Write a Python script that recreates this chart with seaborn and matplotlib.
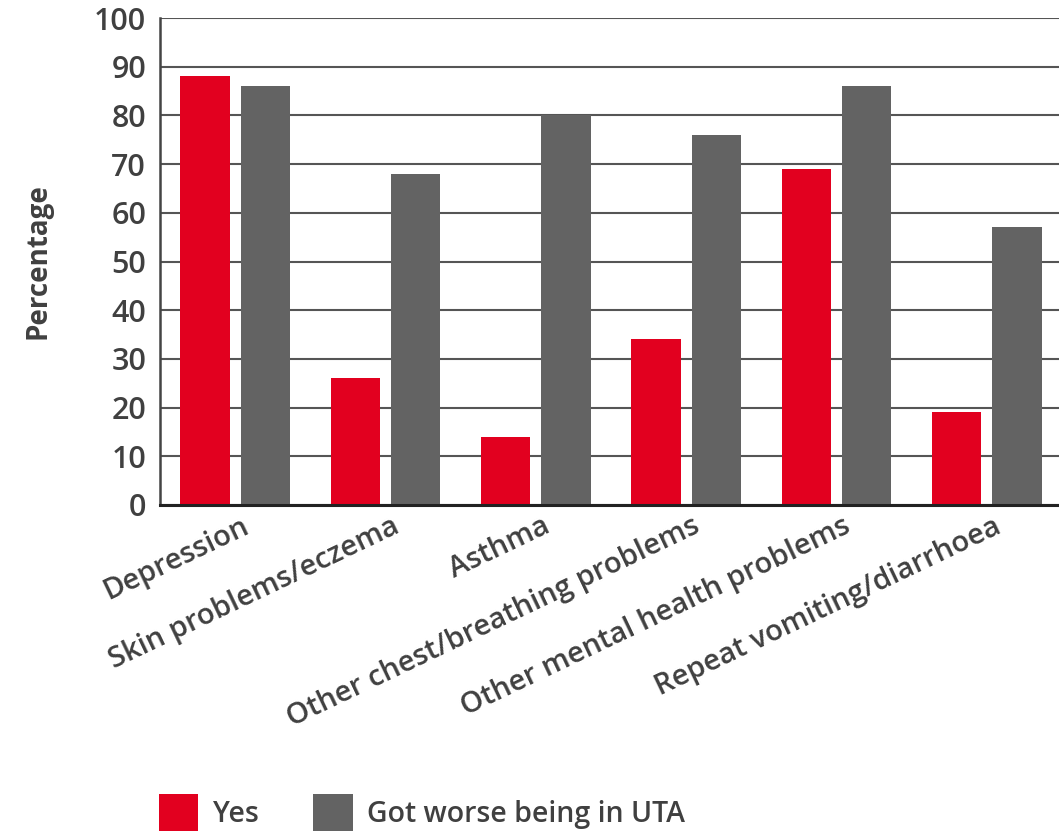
import matplotlib
matplotlib.use("Agg")
import matplotlib.pyplot as plt
import matplotlib.transforms as mtransforms
import seaborn as sns
import pandas as pd

categories = ["Depression", "Skin problems/eczema", "Asthma",
              "Other chest/breathing problems", "Other mental health problems",
              "Repeat vomiting/diarrhoea"]
series_names = ["Yes", "Got worse being in UTA"]
yes_values = [88, 26, 14, 34, 69, 19]
worse_values = [86, 68, 80, 76, 86, 57]
y_ticks = [0, 10, 20, 30, 40, 50, 60, 70, 80, 90, 100]

RED = "#E2001F"
GRAY = "#636363"
TEXT = "#404040"

df = pd.DataFrame({
    "Condition": categories * 2,
    "Value": yes_values + worse_values,
    "Series": [series_names[0]] * len(categories) + [series_names[1]] * len(categories),
})

sns.set_theme(style="white")
plt.rcParams["font.family"] = ["Open Sans", "DejaVu Sans"]

fig = plt.figure(figsize=(10.59, 8.32), dpi=100)
ax = fig.add_axes([160 / 1059, 1 - 505 / 832, (1062 - 160) / 1059, (505 - 18) / 832])

sns.barplot(data=df, x="Condition", y="Value", hue="Series", order=categories,
            hue_order=series_names, palette=[RED, GRAY], width=0.8, gap=0.18,
            saturation=1, linewidth=0, ax=ax, zorder=3)

ax.set_ylim(0, 100)
ax.set_xlim(-0.5, len(categories) - 0.5)
ax.set_yticks(y_ticks)
ax.set_yticklabels([str(t) for t in y_ticks], fontsize=22, fontweight="semibold", color=TEXT)
ax.yaxis.grid(True, color="#555555", linewidth=1.5, zorder=0)
ax.xaxis.grid(False)
ax.set_axisbelow(True)
ax.tick_params(axis="y", length=0, pad=10)

ax.set_xticks(range(len(categories)))
ax.set_xticks([i + 0.5 for i in range(len(categories) - 1)], minor=True)
ax.tick_params(axis="x", which="major", length=0, pad=5)
ax.tick_params(axis="x", which="minor", direction="in", length=7, width=1.5, color="#333333")
offset = mtransforms.ScaledTranslation(6 / 100, 0, fig.dpi_scale_trans)
labels = ax.set_xticklabels(categories, rotation=25.5, ha="right", rotation_mode="anchor",
                            fontsize=21, fontweight="semibold", color=TEXT)
for lab in labels:
    lab.set_transform(lab.get_transform() + offset)

ax.set_xlabel("")
ax.set_ylabel("Percentage", fontsize=20, fontweight="bold", color=TEXT, labelpad=30)

for side in ["top", "right"]:
    ax.spines[side].set_visible(False)
ax.spines["left"].set_color("#444444")
ax.spines["left"].set_linewidth(1.8)
ax.spines["bottom"].set_color("#222222")
ax.spines["bottom"].set_linewidth(2.2)
ax.spines["bottom"].set_zorder(4)

handles, labs = ax.get_legend_handles_labels()
if ax.get_legend() is not None:
    ax.get_legend().remove()
fig.legend(handles, labs, loc="lower left", bbox_to_anchor=(133 / 1059, -25 / 832),
           ncol=2, frameon=False, prop={"weight": "semibold", "size": 20.5},
           handlelength=1.4, handleheight=1.65,
           handletextpad=0.5, columnspacing=1.9, labelcolor=TEXT)

fig.savefig("out.png", dpi=100)
